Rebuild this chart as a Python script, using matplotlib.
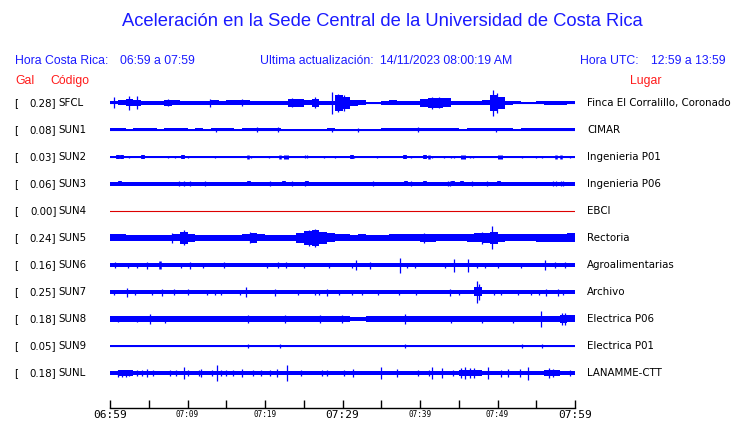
import matplotlib
matplotlib.use("Agg")
import matplotlib.pyplot as plt
import numpy as np

# ---------------- data ----------------
CODES = ["SFCL", "SUN1", "SUN2", "SUN3", "SUN4", "SUN5", "SUN6", "SUN7", "SUN8", "SUN9", "SUNL"]
GAL = ["0.28", "0.08", "0.03", "0.06", "0.00", "0.24", "0.16", "0.25", "0.18", "0.05", "0.18"]
PLACES = ["Finca El Corralillo, Coronado", "CIMAR", "Ingenieria P01", "Ingenieria P06", "EBCI",
          "Rectoria", "Agroalimentarias", "Archivo", "Electrica P06", "Electrica P01", "LANAMME-CTT"]
TICK_LABELS = ["06:59", "", "07:09", "", "07:19", "", "07:29", "", "07:39", "", "07:49", "", "07:59"]

# per-minute envelope half-heights (screen px)
ENV_SFCL = [1.5, 2.5, 3.5, 3, 2, 2, 2, 3, 2.5, 2, 2, 2, 2, 2.5, 2, 2.5, 2.5, 2.5, 2, 2,
            2, 2, 2, 4, 4, 2.5, 4, 2, 2, 8, 6, 3, 2.5, 0.5, 0.5, 2, 2.5, 2, 2, 2,
            4, 5, 5, 4.5, 2, 2, 2, 2, 2.5, 8, 6, 2, 1.5, 1, 1, 1.5, 2, 2, 2, 1.5]
ENV_SUN1 = [1.5, 1.5, 1.3, 1.5, 1.5, 1.5, 1.3, 1.5, 1.5, 1.5, 1.3, 1.5, 1.0, 1.5, 1.5, 1.5, 1.0, 1.5, 1.5, 1.5,
            1.5, 1.5, 0.6, 0.6, 0.6, 1.3, 1.4, 1.4, 1.5, 1.4, 1.4, 1.4, 1.3, 0.8, 1.3, 1.5, 1.5, 1.5, 1.5, 1.5,
            1.5, 1.5, 1.5, 1.5, 1.5, 1.0, 1.5, 1.5, 1.5, 1.5, 1.5, 1.5, 1.0, 1.5, 1.5, 1.5, 1.5, 1.5, 1.5, 1.5]
ENV_SUN2 = [0.5] * 60
ENV_SUN3 = [1.8] * 60
ENV_SUN4 = [0.0] * 60
ENV_SUN5 = [3.5, 3.5, 3, 3, 3, 3, 3, 3, 3.5, 6, 4, 3, 3, 3, 3, 3, 3, 3.5, 5, 3.5,
            3, 3, 3, 3, 5, 7, 8, 6, 4.5, 3.5, 3.5, 3, 3.5, 3, 3, 3, 3.5, 3.5, 3.5, 3.5,
            4, 4, 3.5, 3.5, 3.5, 3.5, 4, 4.5, 5, 6, 4, 3.5, 3.5, 3.5, 3.5, 4, 4, 4, 4, 4.5]
ENV_SUN6 = [1.7] * 60
ENV_SUN7 = [2.0, 1.7, 1.7, 1.7, 1.7, 1.7, 1.7, 1.7, 1.7, 1.7, 1.7, 1.7, 1.7, 1.7, 1.7, 1.7, 1.7, 1.7, 1.7, 1.7,
            1.7, 1.7, 1.7, 1.7, 1.7, 1.7, 1.7, 1.7, 1.7, 1.7, 1.7, 1.7, 1.7, 1.7, 1.7, 1.7, 1.7, 1.7, 1.7, 1.7,
            1.7, 1.7, 1.7, 1.7, 1.7, 1.7, 1.7, 4.5, 1.7, 1.7, 1.7, 1.7, 1.7, 1.7, 1.7, 1.7, 2.2, 2.2, 1.7, 1.7]
ENV_SUN8 = [2.5, 2.8, 2.5, 2.5, 2.8, 3, 2.5, 2.8, 2.5, 2.5, 2.5, 2.5, 2.8, 2.5, 2.5, 2.5, 2.5, 2.8, 2.5, 2.5,
            2.5, 2.5, 2.8, 2.5, 2.5, 2.5, 2.8, 2.8, 2.5, 2.8, 2.5, 2.2, 2.0, 2.5, 2.5, 2.5, 2.5, 2.5, 2.8, 2.5,
            2.5, 2.5, 2.5, 2.5, 2.5, 2.8, 2.5, 2.8, 2.8, 2.5, 2.5, 2.5, 2.8, 2.5, 2.5, 2.5, 2.8, 3, 4, 3.5]
ENV_SUN9 = [1.3, 1.3, 1.3, 1.3, 1.3, 1.0, 0.7, 1.3, 1.3, 1.3, 1.3, 1.0, 1.3, 0.7, 1.0, 0.7, 0.7, 1.3, 1.3, 1.3,
            1.3, 1.3, 1.3, 1.0, 1.0, 1.3, 1.3, 1.0, 1.0, 1.3, 1.3, 1.3, 1.0, 0.7, 1.0, 0.7, 1.3, 1.3, 1.3, 1.3,
            1.3, 1.3, 1.0, 1.3, 1.0, 1.3, 1.3, 1.3, 1.0, 1.3, 1.3, 1.3, 1.3, 1.3, 1.3, 1.0, 1.3, 1.3, 1.3, 1.3]
ENV_SUNL = [1.7, 2.5, 2.5, 1.7, 1.7, 1.7, 1.7, 1.7, 1.7, 1.7, 1.7, 1.7, 1.7, 1.7, 1.7, 1.7, 1.7, 1.7, 1.7, 1.7,
            1.7, 1.7, 1.7, 1.7, 1.7, 1.7, 1.7, 1.7, 1.7, 1.7, 1.7, 1.7, 1.7, 1.7, 1.7, 1.7, 1.7, 1.7, 1.7, 1.7,
            1.7, 1.7, 1.7, 1.7, 1.7, 2.5, 2.5, 2.5, 1.7, 1.7, 1.7, 1.7, 1.7, 1.7, 1.7, 1.7, 2.5, 2.5, 1.7, 1.7]

# spikes / bursts: (minute, half-height px, width px)
SPK_SFCL = [(0.5, 5.5, 1), (2.4, 7, 1), (3.5, 6.5, 1), (7.5, 3.5, 1), (12.9, 4, 1), (17.0, 3.5, 1),
            (23.5, 4.5, 1), (26.5, 5.5, 1), (28.7, 11, 1), (29.4, 9, 1), (30.2, 8, 1), (41.5, 6, 1),
            (42.5, 5.5, 1), (49.4, 13, 1), (49.9, 10, 1)]
SPK_SUN1 = [(13.7, 2.0, 1), (19.0, 2.5, 1), (21.7, 2.5, 1), (28.7, 2, 1), (32.0, 2.0, 1), (39.8, 2.5, 1),
            (49.8, 2, 1)]
SPK_SUN2 = [(1.0, 1.7, 3), (1.6, 1.7, 3), (2.4, 1.0, 1), (4.3, 1.7, 3), (7.5, 1.0, 1), (8.4, 1.2, 1),
            (9.4, 1.7, 3), (10.0, 1.4, 1), (13.6, 1.0, 1), (17.8, 1.7, 2), (18.2, 1.2, 1), (20.5, 1.2, 1),
            (21.9, 1.7, 2), (22.7, 1.7, 4), (25.1, 1.5, 1), (25.4, 1.5, 1), (27.6, 1.2, 1), (29.0, 1.0, 1),
            (31.2, 1.7, 3), (31.5, 1.2, 1), (34.5, 1.0, 1), (38.1, 1.7, 3), (38.8, 1.2, 1), (40.6, 1.7, 3),
            (41.1, 1.7, 2), (41.5, 1.2, 1), (43.1, 1.2, 1), (44.0, 1.2, 1), (44.4, 1.2, 1), (45.5, 1.7, 4),
            (46.5, 1.2, 1), (46.8, 1.2, 1), (50.3, 1.7, 4), (53.1, 1.0, 1), (55.0, 1.0, 1), (55.7, 1.0, 1),
            (57.5, 1.7, 2), (58.2, 1.7, 2), (59.4, 1.0, 1)]
SPK_SUN3 = [(1.3, 2.5, 3), (8.9, 2.5, 1), (9.6, 2.5, 1), (10.3, 2.5, 1), (12.3, 2.5, 1), (17.9, 2.5, 3),
            (20.6, 2.5, 1), (22.5, 2.5, 3), (23.5, 2.5, 1), (25.1, 2.5, 1), (25.4, 2.5, 3), (33.9, 2.5, 1),
            (38.2, 2.5, 3), (38.8, 2.5, 1), (40.6, 2.5, 3), (43.6, 2.5, 1), (43.9, 2.5, 1), (44.3, 2.5, 3),
            (45.4, 2.5, 3), (46.7, 2.5, 1), (48.7, 2.5, 1), (50.2, 2.5, 3), (57.1, 2.5, 1), (57.5, 2.5, 1),
            (58.2, 2.5, 1), (58.5, 2.5, 1)]
SPK_SUN4 = []
SPK_SUN5 = [(8.0, 5, 1), (9.6, 7.5, 1), (18.1, 5.5, 1), (25.7, 8, 1), (26.5, 9, 1), (40.5, 5, 1),
            (48.0, 6, 1), (49.3, 11.5, 1)]
SPK_SUN6 = [(0.65, 3, 1), (2.3, 2.5, 1), (3.5, 2.5, 1), (4.8, 3.5, 1), (6.5, 4, 2), (9.1, 2.5, 1),
            (10.3, 3.5, 1), (12.0, 2.5, 1), (14.7, 3, 1), (20.2, 2.5, 1), (21.7, 3, 1), (22.7, 3, 1),
            (25.0, 2.5, 1), (28.3, 2.5, 1), (31.2, 2.5, 1), (31.8, 4.5, 1), (33.6, 3.5, 1), (37.4, 7.5, 1),
            (38.3, 2.5, 1), (39.4, 2.5, 1), (43.2, 2.5, 1), (44.4, 6.5, 1), (46.2, 6.5, 1), (47.3, 2.5, 1),
            (48.4, 2.5, 1), (50.0, 2.5, 1), (53.0, 2.5, 1), (56.1, 5, 1), (57.4, 3, 1), (58.7, 3, 1)]
SPK_SUN7 = [(0.5, 2.5, 1), (2.2, 4.5, 1), (3.2, 2.5, 1), (5.4, 2.5, 1), (6.7, 3.5, 1), (8.2, 3, 1),
            (10.1, 3, 1), (12.5, 2.5, 1), (13.5, 2.5, 1), (14.3, 2.5, 1), (16.8, 2.5, 1), (17.6, 5, 1),
            (21.3, 3.5, 1), (24.3, 2.5, 1), (26.4, 2.5, 1), (27.0, 2.5, 1), (28.0, 3.5, 1), (29.5, 2.5, 1),
            (31.2, 2.5, 1), (32.5, 2.5, 1), (34.6, 2.5, 1), (37.3, 2.5, 1), (39.5, 2.5, 1), (43.9, 3.5, 1),
            (45.0, 2.5, 1), (47.4, 11, 1), (47.6, 8, 1), (49.5, 2.5, 1), (50.5, 2.5, 1), (52.7, 2.5, 1),
            (54.3, 2.5, 1), (55.3, 2.5, 1), (56.3, 3.5, 1), (57.8, 3.5, 1), (58.5, 2.5, 1)]
SPK_SUN8 = [(1.0, 3, 1), (3.5, 3, 1), (5.1, 5, 1), (7.1, 3.5, 1), (17.8, 4.5, 1), (22.6, 4, 1),
            (27.1, 4, 1), (29.9, 4, 1), (38.1, 5, 1), (44.0, 3.5, 1), (48.0, 3.5, 1), (52.0, 3.5, 1),
            (55.6, 8, 1), (58.3, 6, 1), (58.7, 6, 1)]
SPK_SUN9 = [(17.8, 2, 1), (21.9, 2, 1), (38.1, 2, 1), (53.1, 2, 1), (55.8, 1.8, 1)]
SPK_SUNL = [(1.0, 3.5, 1), (1.5, 3.5, 1), (2.0, 3.5, 1), (2.4, 3, 1), (3.5, 3, 1), (4.1, 3, 1),
            (4.8, 4, 1), (5.6, 3, 1), (7.7, 2.5, 1), (8.5, 3, 1), (9.6, 6, 1), (10.1, 3, 1),
            (11.5, 3, 1), (11.8, 4.5, 1), (13.2, 3, 1), (13.8, 8, 1), (14.3, 3, 1), (15.0, 3, 1),
            (15.9, 3, 1), (17.0, 4.5, 1), (18.5, 2.5, 1), (19.5, 2.5, 1), (20.7, 3, 1), (21.6, 4, 1),
            (22.9, 8, 1), (24.7, 3, 1), (27.4, 3, 1), (28.0, 2.5, 1), (30.2, 3, 1), (31.3, 4.5, 1),
            (35.0, 6, 1), (37.0, 4, 1), (39.8, 3, 1), (41.1, 3, 1), (41.6, 5.5, 1), (42.8, 5, 1),
            (44.3, 3, 1), (45.3, 5, 1), (45.8, 6, 1), (46.4, 5, 1), (47.0, 5, 1), (48.8, 6, 1),
            (50.5, 3.5, 1), (51.3, 4, 1), (52.9, 4, 1), (53.9, 6.5, 1), (56.6, 5, 1), (57.1, 4, 1),
            (59.4, 3, 1)]

ENVS = [ENV_SFCL, ENV_SUN1, ENV_SUN2, ENV_SUN3, ENV_SUN4, ENV_SUN5, ENV_SUN6, ENV_SUN7, ENV_SUN8, ENV_SUN9, ENV_SUNL]
SPKS = [SPK_SFCL, SPK_SUN1, SPK_SUN2, SPK_SUN3, SPK_SUN4, SPK_SUN5, SPK_SUN6, SPK_SUN7, SPK_SUN8, SPK_SUN9, SPK_SUNL]

# ---------------- layout ----------------
W, H = 740, 423
ROW_PX = 27.0          # vertical spacing between traces (px)
TOP_ROW_PX = 103.0     # centre of first trace (px)
X0, X1 = 110, 575      # trace extent (px)
AX_BOTTOM_PX = 408.0

BLUE = "#0000ff"
TBLUE = "#1a1aff"
RED = "#ff1a1a"

fig = plt.figure(figsize=(W / 100, H / 100), dpi=100)
fig.patch.set_facecolor("white")

def fx(x):
    return x / W

def fy(y):
    return 1 - y / H

top_px = TOP_ROW_PX - ROW_PX / 2
ax = fig.add_axes([fx(X0), fy(AX_BOTTOM_PX), (X1 - X0) / W, (AX_BOTTOM_PX - top_px) / H])
ax.set_xlim(0, 60)
ax.set_ylim((AX_BOTTOM_PX - TOP_ROW_PX) / ROW_PX, -0.5)
for s in ["top", "left", "right"]:
    ax.spines[s].set_visible(False)
ax.spines["bottom"].set_linewidth(1.0)
ax.set_yticks([])
ax.patch.set_alpha(0)

minutes = np.arange(61)
for i, (env, spk) in enumerate(zip(ENVS, SPKS)):
    if CODES[i] == "SUN4":
        ax.plot([0, 60], [i, i], color="#dd0000", lw=0.8)
        continue
    amp = np.array(env + [env[-1]]) / ROW_PX
    ax.fill_between(minutes, i - amp, i + amp, step="post", color=BLUE, lw=0)
    ax.plot([0, 60], [i, i], color=BLUE, lw=0.8)
    for (m, h, w) in spk:
        ax.vlines(m, i - h / ROW_PX, i + h / ROW_PX, color=BLUE, lw=w * 0.9)

ax.set_xticks(range(0, 61, 5))
ax.set_xticklabels(TICK_LABELS, family="DejaVu Sans Mono")
ax.tick_params(axis="x", direction="in", length=5.6, width=1.0, pad=1.5, colors="black")
for lab in ax.get_xticklabels():
    lab.set_fontsize(8.0 if lab.get_text() in ("06:59", "07:29", "07:59") else 5.5)

# ---------------- texts ----------------
fig.text(fx(382), fy(21), "Aceleración en la Sede Central de la Universidad de Costa Rica",
         ha="center", va="center", color=TBLUE, fontsize=13.2, family="Liberation Sans")

hdr = dict(va="center", color=TBLUE, fontsize=8.8, family="Liberation Sans")
fig.text(fx(15), fy(61), "Hora Costa Rica:", ha="left", **hdr)
fig.text(fx(120), fy(61), "06:59 a 07:59", ha="left", **hdr)
fig.text(fx(260), fy(61), "Ultima actualización:", ha="left", **hdr)
fig.text(fx(380), fy(61), "14/11/2023 08:00:19 AM", ha="left", **hdr)
fig.text(fx(580), fy(61), "Hora UTC:", ha="left", **hdr)
fig.text(fx(651), fy(61), "12:59 a 13:59", ha="left", **hdr)

red = dict(va="center", color=RED, fontsize=8.8, family="Liberation Sans")
fig.text(fx(15), fy(81), "Gal", ha="left", **red)
fig.text(fx(50.5), fy(81), "Código", ha="left", **red)
fig.text(fx(630), fy(81), "Lugar", ha="left", **red)

lab = dict(va="center", color="black", fontsize=7.4, family="DejaVu Sans")
for i in range(len(CODES)):
    y = TOP_ROW_PX + i * ROW_PX
    fig.text(fx(14), fy(y), "[", ha="left", **lab)
    fig.text(fx(56.5), fy(y), GAL[i] + "]", ha="right", **lab)
    fig.text(fx(58.5), fy(y), CODES[i], ha="left", **lab)
    fig.text(fx(587), fy(y), PLACES[i], ha="left", **lab)

fig.savefig("out.png", dpi=100, facecolor="white")
